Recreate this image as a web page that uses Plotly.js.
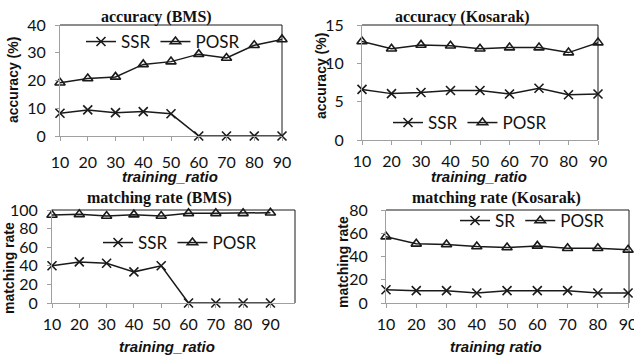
<!DOCTYPE html>
<html><head><meta charset="utf-8">
<script src="https://cdn.plot.ly/plotly-3.0.1.min.js"></script>
<style>html,body{margin:0;padding:0;background:#fff}#chart{width:634px;height:356px}</style>
</head><body><div id="chart"></div>
<script>
const ratios = [10,20,30,40,50,60,70,80,90];
const accBmsSSR  = [8.2,9.4,8.4,8.8,8.0,0,0,0,0];
const accBmsPOSR = [19.2,20.7,21.3,25.8,26.8,29.5,28.1,32.7,34.8];
const accKosSSR  = [6.6,6.05,6.2,6.45,6.45,6.0,6.75,5.9,6.0];
const accKosPOSR = [12.85,11.9,12.4,12.3,11.9,12.05,12.05,11.4,12.7];
const mrBmsSSR   = [40,44.2,42.8,33.5,40,0,0,0,0];
const mrBmsPOSR  = [94.6,95.3,93.5,95,93.5,96.4,96.4,96.4,97.1];
const mrKosSR    = [11.4,10.6,10.6,8.6,10.6,10.6,10.6,8.6,8.6];
const mrKosPOSR  = [57.1,50.9,50.3,48.6,47.7,49.1,47.1,47.1,45.7];

const W=634,H=356;
const px=x=>x/W, py=y=>1-y/H;
const C='#1a1a1a', G='#a0a0a0';
const sans='Lato, Liberation Sans, Arial, sans-serif';
const bsans='Liberation Sans, Arial, sans-serif';
const serif='Liberation Serif, Times New Roman, serif';

function tr(y,name,sym,ax,leg){
  return {x:ratios,y:y,name:name,type:'scatter',mode:'lines+markers',
    xaxis:'x'+ax,yaxis:'y'+ax,legend:leg,cliponaxis:false,
    line:{color:C,width:1.5},
    marker:{symbol:sym,size:9,color:C,line:{color:C,width:1.6}}};
}
const data=[
  tr(accBmsSSR,'SSR','x-thin-open','', 'legend'),
  tr(accBmsPOSR,'POSR','triangle-up-open','', 'legend'),
  tr(accKosSSR,'SSR','x-thin-open','2','legend2'),
  tr(accKosPOSR,'POSR','triangle-up-open','2','legend2'),
  tr(mrBmsSSR,'SSR','x-thin-open','3','legend3'),
  tr(mrBmsPOSR,'POSR','triangle-up-open','3','legend3'),
  tr(mrKosSR,'SR','x-thin-open','4','legend4'),
  tr(mrKosPOSR,'POSR','triangle-up-open','4','legend4')
];
const tickF={family:sans,size:16,color:'#111'};
function xa(d,y,range,stand){
  return {domain:[px(d[0]),px(d[1])],anchor:y,range:range,tickvals:ratios,
    showline:true,linecolor:G,linewidth:1,ticks:'outside',ticklen:4,tickcolor:G,
    showgrid:false,zeroline:false,ticklabelstandoff:stand,ticklabeloverflow:'allow',
    tickfont:tickF};
}
function ya(d,x,range,dt,stand){
  return {domain:[py(d[1]),py(d[0])],anchor:x,range:range,dtick:dt,
    showline:true,linecolor:G,linewidth:1,ticks:'outside',ticklen:4,tickcolor:G,
    showgrid:false,zeroline:false,ticklabelstandoff:stand,
    tickfont:tickF};
}
function lg(x,y){
  return {orientation:'h',x:px(x),y:py(y),xanchor:'left',yanchor:'middle',
    bgcolor:'rgba(0,0,0,0)',font:{family:sans,size:17,color:'#111'},itemclick:false};
}
function ann(t,x,y,font,rot){
  return {text:t,x:px(x),y:py(y),xref:'paper',yref:'paper',showarrow:false,
    xanchor:'center',yanchor:'middle',textangle:rot||0,font:font};
}
function frame(ax){
  const xr='x'+ax+' domain', yr='y'+ax+' domain';
  return [
    {type:'line',xref:xr,yref:yr,x0:0,x1:1,y0:1,y1:1,line:{color:C,width:1}},
    {type:'line',xref:xr,yref:yr,x0:1,x1:1,y0:0,y1:1,line:{color:C,width:1}}
  ];
}
const tFont={family:serif,size:16,color:'#111',weight:'bold'};
const aFont={family:bsans,size:14,color:'#111',weight:'bold'};
const xFont={family:bsans,size:15,color:'#111',weight:'bold',style:'italic'};
const layout={
  width:W,height:H,margin:{l:0,r:0,t:0,b:0},paper_bgcolor:'#fff',plot_bgcolor:'rgba(0,0,0,0)',
  showlegend:true,
  xaxis:xa([60,282],'y',[10,90],8),
  yaxis:ya([25,136],'x',[0,40],10,6),
  xaxis2:xa([362,598],'y2',[10,90],3),
  yaxis2:ya([25,140],'x2',[0,15],5,10),
  xaxis3:xa([52,295],'y3',[10,99],3),
  yaxis3:ya([210,303],'x3',[0,100],20,6),
  xaxis4:xa([386,629],'y4',[10,90.3],3),
  yaxis4:ya([210,303],'x4',[0,80],20,10),
  legend:lg(81,42),
  legend2:lg(388,123),
  legend3:lg(98,243),
  legend4:lg(455,221),
  shapes:[].concat(frame(''),frame('2'),frame('3'),frame('4')),
  annotations:[
    ann('accuracy (BMS)',156,17,tFont),
    ann('accuracy (Kosarak)',462,17,tFont),
    ann('matching rate (BMS)',159,198,tFont),
    ann('matching rate (Kosarak)',496,198,tFont),
    ann('accuracy (%)',13,80,aFont,-90),
    ann('accuracy (%)',321,76,aFont,-90),
    ann('matching rate',9,268,aFont,-90),
    ann('matching rate',343,262,aFont,-90),
    ann('training_ratio',170,176,xFont),
    ann('training_ratio',479,176,xFont),
    ann('training_ratio',167,346,xFont),
    ann('training ratio',496,346,xFont)
  ]
};
Plotly.newPlot('chart',data,layout,{staticPlot:true});
</script></body></html>
